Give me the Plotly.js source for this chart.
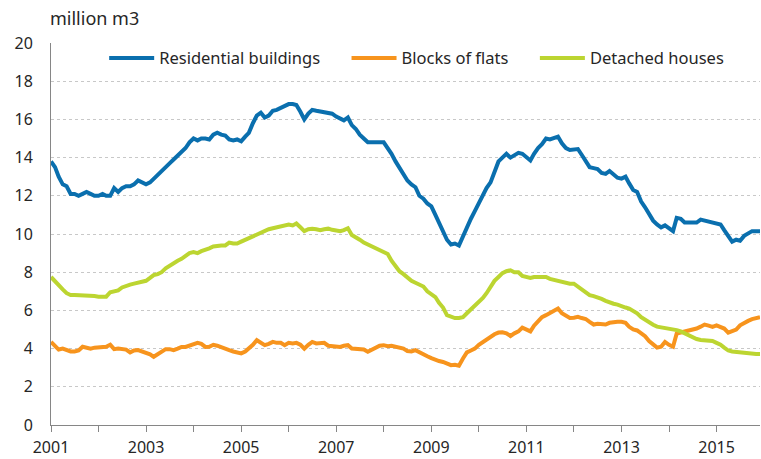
<!DOCTYPE html>
<html>
<head>
<meta charset="utf-8">
<script src="https://cdn.plot.ly/plotly-3.0.1.min.js"></script>
<style>html,body{margin:0;padding:0;background:#fff;}#chart{width:761px;height:459px;}</style>
</head>
<body>
<div id="chart"></div>
<script>
// Monthly data, Jan 2001 - Dec 2015, million m3 (12-month moving sums)
const startYear = 2001;
const nMonths = 180;

const residential = [
13.8,13.5,13.0,12.6,12.5,12.1,12.1,12.0,12.1,12.2,12.1,12.0,
12.0,12.1,12.0,12.0,12.4,12.2,12.4,12.5,12.5,12.6,12.8,12.7,
12.6,12.7,12.9,13.1,13.3,13.5,13.7,13.9,14.1,14.3,14.5,14.8,
15.0,14.9,15.0,15.0,14.95,15.2,15.3,15.2,15.15,14.95,14.9,14.95,
14.85,15.1,15.3,15.8,16.2,16.35,16.1,16.2,16.45,16.5,16.6,16.7,
16.8,16.8,16.75,16.4,16.0,16.3,16.5,16.45,16.4,16.4,16.3,16.3,
16.15,16.05,15.95,16.1,15.7,15.5,15.2,15.0,14.8,14.8,14.78,14.8,
14.8,14.5,14.2,13.8,13.5,13.1,12.8,12.6,12.45,12.0,11.85,11.6,
11.45,11.0,10.6,10.2,9.7,9.45,9.5,9.4,9.9,10.3,10.8,11.2,
11.65,12.0,12.4,12.7,13.3,13.8,14.0,14.2,14.0,14.15,14.25,14.2,
14.0,13.85,14.2,14.5,14.7,15.0,14.95,15.05,15.1,14.75,14.5,14.4,
14.45,14.45,14.15,13.8,13.5,13.45,13.4,13.2,13.15,13.3,13.1,12.95,
12.9,13.0,12.65,12.3,12.2,11.7,11.4,11.0,10.7,10.5,10.35,10.45,
10.3,10.15,10.85,10.8,10.6,10.6,10.55,10.6,10.75,10.7,10.65,10.6,
10.55,10.5,10.2,9.85,9.6,9.7,9.65,9.9,10.0,10.15,10.15,10.15
];

const blocksOfFlats = [
4.35,4.1,3.95,4.0,3.9,3.85,3.85,3.9,4.1,4.05,4.0,4.05,
4.05,4.1,4.1,4.2,3.97,4.0,4.0,3.95,3.8,3.9,3.92,3.85,
3.8,3.7,3.57,3.7,3.8,3.97,3.97,3.92,4.0,4.09,4.09,4.15,
4.25,4.3,4.25,4.09,4.1,4.2,4.15,4.09,4.0,3.92,3.85,3.8,
3.75,3.85,4.0,4.2,4.44,4.3,4.18,4.25,4.35,4.3,4.3,4.18,
4.3,4.27,4.3,4.2,4.0,4.2,4.35,4.27,4.3,4.3,4.15,4.13,
4.1,4.09,4.15,4.18,4.0,4.0,4.0,3.95,3.83,3.95,4.09,4.15,
4.18,4.13,4.15,4.1,4.09,4.0,3.87,3.85,3.92,3.8,3.69,3.6,
3.5,3.4,3.35,3.3,3.2,3.13,3.15,3.1,3.48,3.8,3.9,4.0,
4.2,4.35,4.5,4.6,4.75,4.84,4.85,4.8,4.66,4.8,4.9,5.1,
4.97,4.9,5.2,5.45,5.65,5.75,5.85,6.0,6.1,5.85,5.7,5.6,
5.62,5.66,5.6,5.55,5.4,5.26,5.3,5.3,5.26,5.35,5.4,5.4,
5.4,5.35,5.14,5.0,4.95,4.8,4.65,4.4,4.2,4.05,4.1,4.35,
4.2,4.1,4.79,4.84,4.85,4.9,5.0,5.05,5.15,5.26,5.2,5.14,
5.22,5.1,5.05,4.84,4.9,5.0,5.22,5.35,5.45,5.54,5.6,5.65
];

const detachedHouses = [
7.75,7.5,7.35,7.1,6.9,6.8,6.8,6.8,6.8,6.8,6.8,6.75,
6.72,6.72,6.72,6.95,7.0,7.05,7.2,7.3,7.35,7.4,7.45,7.45,
7.55,7.7,7.85,7.9,8.0,8.2,8.35,8.45,8.6,8.7,8.85,9.0,
9.05,9.0,9.1,9.15,9.25,9.35,9.4,9.4,9.4,9.55,9.5,9.5,
9.6,9.7,9.75,9.85,9.95,10.05,10.15,10.25,10.3,10.35,10.45,10.5,
10.5,10.45,10.55,10.35,10.15,10.25,10.28,10.25,10.2,10.25,10.28,10.22,
10.2,10.15,10.2,10.3,9.95,9.85,9.7,9.55,9.45,9.35,9.3,9.2,
9.1,8.95,8.6,8.3,8.05,7.9,7.7,7.55,7.45,7.35,7.25,7.0,
6.85,6.7,6.4,6.15,5.75,5.65,5.6,5.6,5.65,5.85,6.05,6.3,
6.45,6.65,6.9,7.2,7.55,7.75,7.95,8.05,8.1,8.0,8.0,7.8,
7.75,7.7,7.75,7.75,7.8,7.75,7.65,7.6,7.55,7.45,7.4,7.4,
7.4,7.25,7.1,6.95,6.8,6.75,6.7,6.6,6.5,6.4,6.35,6.3,
6.2,6.15,6.1,6.0,5.85,5.65,5.5,5.35,5.25,5.15,5.12,5.1,
5.05,5.05,4.97,4.9,4.8,4.7,4.6,4.5,4.45,4.42,4.4,4.4,
4.3,4.2,4.05,3.9,3.85,3.82,3.8,3.78,3.75,3.72,3.72,3.72
];

const seriesNames = ['Residential buildings', 'Blocks of flats', 'Detached houses'];
const seriesColors = ['#0a6fae', '#f7941d', '#bcd531'];
const yTickVals = [0,2,4,6,8,10,12,14,16,18,20];
const unitLabel = 'million m3';

function pad(n){ return n < 10 ? '0' + n : '' + n; }
const months = [];
for (let i = 0; i < nMonths; i++) {
  const y = startYear + Math.floor(i / 12);
  const m = (i % 12) + 1;
  months.push(y + '-' + pad(m) + '-01');
}

const FONT = 'Noto Sans, Open Sans, sans-serif';
const NBSP = '\u00a0\u00a0\u00a0\u00a0\u00a0';
const seriesData = [residential, blocksOfFlats, detachedHouses];
const traces = seriesData.map((vals, k) => ({
  x: months,
  y: vals,
  type: 'scatter',
  mode: 'lines',
  name: seriesNames[k] + (k < seriesNames.length - 1 ? NBSP : ''),
  line: {color: seriesColors[k], width: 4},
  hoverinfo: 'x+y+name'
}));

const layout = {
  width: 761,
  height: 459,
  margin: {l: 51, r: 1, t: 43, b: 34},
  paper_bgcolor: '#ffffff',
  plot_bgcolor: '#ffffff',
  font: {family: FONT, size: 16, color: '#262626'},
  showlegend: true,
  legend: {
    orientation: 'h',
    x: 0.075, y: 1.006,
    xanchor: 'left', yanchor: 'top',
    bgcolor: 'rgba(0,0,0,0)',
    font: {family: FONT, size: 16.5, color: '#262626'},
    itemwidth: 45
  },
  xaxis: {
    type: 'date',
    range: [months[0], months[nMonths - 1]],
    tick0: months[0],
    dtick: 'M24',
    tickformat: '%Y',
    ticks: 'outside',
    ticklen: 6,
    tickcolor: '#868686',
    ticklabelstandoff: 2,
    showline: true,
    linecolor: '#868686',
    linewidth: 1,
    showgrid: false,
    zeroline: false,
    tickfont: {family: FONT, size: 16, color: '#262626'},
    minor: {dtick: 'M12', ticks: 'outside', ticklen: 6, tickcolor: '#868686', showgrid: false}
  },
  yaxis: {
    range: [0, 20],
    tickvals: yTickVals,
    ticks: '',
    showline: true,
    linecolor: '#868686',
    linewidth: 1,
    showgrid: true,
    gridcolor: '#c8c8c8',
    griddash: 'dot',
    gridwidth: 1,
    zeroline: false,
    ticklabelstandoff: 14,
    tickfont: {family: FONT, size: 16, color: '#262626'}
  },
  annotations: [{
    text: unitLabel,
    xref: 'paper', yref: 'paper',
    x: -0.004, y: 1.0,
    xanchor: 'left', yanchor: 'bottom',
    yshift: 11,
    showarrow: false,
    font: {family: FONT, size: 18, color: '#262626'}
  }]
};

Plotly.newPlot('chart', traces, layout, {displayModeBar: false, staticPlot: true});
</script>
</body>
</html>
